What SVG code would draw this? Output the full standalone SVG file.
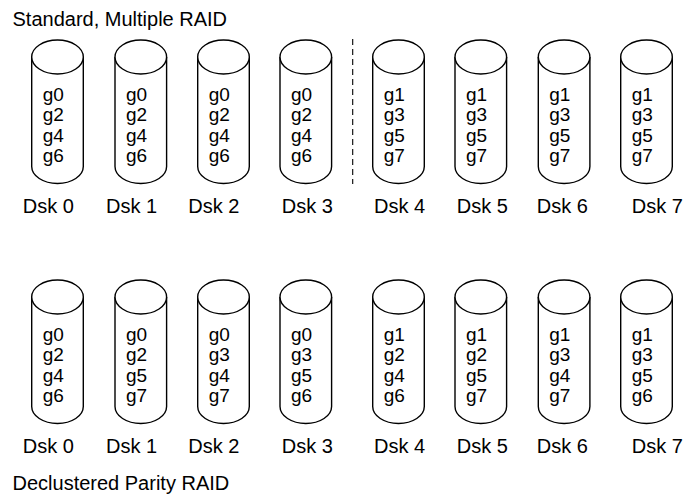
<svg xmlns="http://www.w3.org/2000/svg" xmlns:xlink="http://www.w3.org/1999/xlink" width="683" height="495" viewBox="0 0 683 495">
  <style>
    text { font-family: "Liberation Sans", Arial, sans-serif; fill: #000; }
    .title { font-size: 20px; }
    .lbl { font-size: 20px; }
    .grp { font-size: 19px; }
    .cyl { fill: #fff; stroke: #000; stroke-width: 1.4; }
    .sep { stroke: #000; stroke-width: 1.1; stroke-dasharray: 6 4; fill: none; }
  </style>
  <defs>
    <!-- disk cylinder, origin at left end of the top ellipse's centre line -->
    <g id="disk">
      <path class="cyl" d="M0,0 V109.5 A25.8,17 0 0 0 51.6,109.5 V0"/>
      <ellipse class="cyl" cx="25.8" cy="0" rx="25.8" ry="17"/>
    </g>
  </defs>
  <rect width="683" height="495" fill="#fff"/>

  <text class="title" x="12.5" y="26">Standard, Multiple RAID</text>
  <text class="title" x="12.5" y="489.5">Declustered Parity RAID</text>

  <g id="connectors">
    <line class="sep" x1="352.7" y1="39" x2="352.7" y2="184"/>
  </g>

  <!-- standard layout -->
  <g id="std-dsk0" transform="translate(31.7,57)">
    <use xlink:href="#disk"/>
    <text class="grp" x="11"><tspan x="11" y="43.5">g0</tspan><tspan x="11" y="64">g2</tspan><tspan x="11" y="84.5">g4</tspan><tspan x="11" y="105">g6</tspan></text>
    <text class="lbl" x="-9" y="155.7">Dsk 0</text>
  </g>
  <g id="std-dsk1" transform="translate(115,57)">
    <use xlink:href="#disk"/>
    <text class="grp" x="11"><tspan x="11" y="43.5">g0</tspan><tspan x="11" y="64">g2</tspan><tspan x="11" y="84.5">g4</tspan><tspan x="11" y="105">g6</tspan></text>
    <text class="lbl" x="-9" y="155.7">Dsk 1</text>
  </g>
  <g id="std-dsk2" transform="translate(197.7,57)">
    <use xlink:href="#disk"/>
    <text class="grp" x="11"><tspan x="11" y="43.5">g0</tspan><tspan x="11" y="64">g2</tspan><tspan x="11" y="84.5">g4</tspan><tspan x="11" y="105">g6</tspan></text>
    <text class="lbl" x="-9.4" y="155.7">Dsk 2</text>
  </g>
  <g id="std-dsk3" transform="translate(280,57)">
    <use xlink:href="#disk"/>
    <text class="grp" x="11"><tspan x="11" y="43.5">g0</tspan><tspan x="11" y="64">g2</tspan><tspan x="11" y="84.5">g4</tspan><tspan x="11" y="105">g6</tspan></text>
    <text class="lbl" x="1.7" y="155.7">Dsk 3</text>
  </g>
  <g id="std-dsk4" transform="translate(372.7,57)">
    <use xlink:href="#disk"/>
    <text class="grp" x="11"><tspan x="11" y="43.5">g1</tspan><tspan x="11" y="64">g3</tspan><tspan x="11" y="84.5">g5</tspan><tspan x="11" y="105">g7</tspan></text>
    <text class="lbl" x="1.3" y="155.7">Dsk 4</text>
  </g>
  <g id="std-dsk5" transform="translate(455,57)">
    <use xlink:href="#disk"/>
    <text class="grp" x="11"><tspan x="11" y="43.5">g1</tspan><tspan x="11" y="64">g3</tspan><tspan x="11" y="84.5">g5</tspan><tspan x="11" y="105">g7</tspan></text>
    <text class="lbl" x="1.7" y="155.7">Dsk 5</text>
  </g>
  <g id="std-dsk6" transform="translate(538.3,57)">
    <use xlink:href="#disk"/>
    <text class="grp" x="11"><tspan x="11" y="43.5">g1</tspan><tspan x="11" y="64">g3</tspan><tspan x="11" y="84.5">g5</tspan><tspan x="11" y="105">g7</tspan></text>
    <text class="lbl" x="-1.6" y="155.7">Dsk 6</text>
  </g>
  <g id="std-dsk7" transform="translate(620.7,57)">
    <use xlink:href="#disk"/>
    <text class="grp" x="11"><tspan x="11" y="43.5">g1</tspan><tspan x="11" y="64">g3</tspan><tspan x="11" y="84.5">g5</tspan><tspan x="11" y="105">g7</tspan></text>
    <text class="lbl" x="11" y="155.7">Dsk 7</text>
  </g>

  <!-- declustered layout -->
  <g id="dcl-dsk0" transform="translate(31.7,297)">
    <use xlink:href="#disk"/>
    <text class="grp" x="11"><tspan x="11" y="43.5">g0</tspan><tspan x="11" y="64">g2</tspan><tspan x="11" y="84.5">g4</tspan><tspan x="11" y="105">g6</tspan></text>
    <text class="lbl" x="-9" y="155.7">Dsk 0</text>
  </g>
  <g id="dcl-dsk1" transform="translate(115,297)">
    <use xlink:href="#disk"/>
    <text class="grp" x="11"><tspan x="11" y="43.5">g0</tspan><tspan x="11" y="64">g2</tspan><tspan x="11" y="84.5">g5</tspan><tspan x="11" y="105">g7</tspan></text>
    <text class="lbl" x="-9" y="155.7">Dsk 1</text>
  </g>
  <g id="dcl-dsk2" transform="translate(197.7,297)">
    <use xlink:href="#disk"/>
    <text class="grp" x="11"><tspan x="11" y="43.5">g0</tspan><tspan x="11" y="64">g3</tspan><tspan x="11" y="84.5">g4</tspan><tspan x="11" y="105">g7</tspan></text>
    <text class="lbl" x="-9.4" y="155.7">Dsk 2</text>
  </g>
  <g id="dcl-dsk3" transform="translate(280,297)">
    <use xlink:href="#disk"/>
    <text class="grp" x="11"><tspan x="11" y="43.5">g0</tspan><tspan x="11" y="64">g3</tspan><tspan x="11" y="84.5">g5</tspan><tspan x="11" y="105">g6</tspan></text>
    <text class="lbl" x="1.7" y="155.7">Dsk 3</text>
  </g>
  <g id="dcl-dsk4" transform="translate(372.7,297)">
    <use xlink:href="#disk"/>
    <text class="grp" x="11"><tspan x="11" y="43.5">g1</tspan><tspan x="11" y="64">g2</tspan><tspan x="11" y="84.5">g4</tspan><tspan x="11" y="105">g6</tspan></text>
    <text class="lbl" x="1.3" y="155.7">Dsk 4</text>
  </g>
  <g id="dcl-dsk5" transform="translate(455,297)">
    <use xlink:href="#disk"/>
    <text class="grp" x="11"><tspan x="11" y="43.5">g1</tspan><tspan x="11" y="64">g2</tspan><tspan x="11" y="84.5">g5</tspan><tspan x="11" y="105">g7</tspan></text>
    <text class="lbl" x="1.7" y="155.7">Dsk 5</text>
  </g>
  <g id="dcl-dsk6" transform="translate(538.3,297)">
    <use xlink:href="#disk"/>
    <text class="grp" x="11"><tspan x="11" y="43.5">g1</tspan><tspan x="11" y="64">g3</tspan><tspan x="11" y="84.5">g4</tspan><tspan x="11" y="105">g7</tspan></text>
    <text class="lbl" x="-1.6" y="155.7">Dsk 6</text>
  </g>
  <g id="dcl-dsk7" transform="translate(620.7,297)">
    <use xlink:href="#disk"/>
    <text class="grp" x="11"><tspan x="11" y="43.5">g1</tspan><tspan x="11" y="64">g3</tspan><tspan x="11" y="84.5">g5</tspan><tspan x="11" y="105">g6</tspan></text>
    <text class="lbl" x="11" y="155.7">Dsk 7</text>
  </g>
</svg>
